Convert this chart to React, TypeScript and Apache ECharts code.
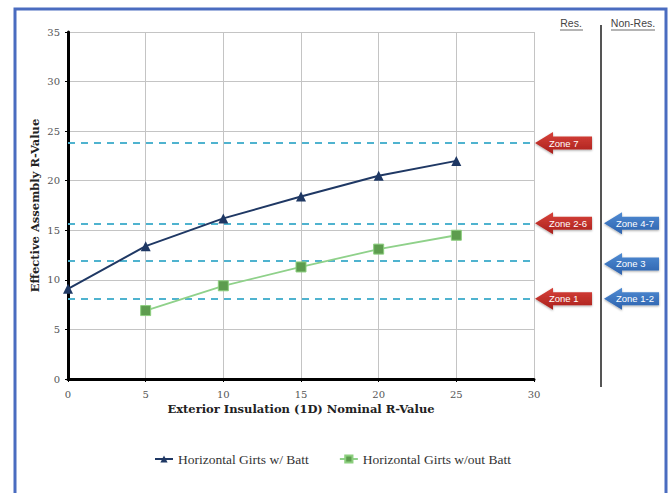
import React, { useEffect, useRef } from "react";
import * as echarts from "echarts";

const xValues = [0, 5, 10, 15, 20, 25];
const withBatt = [9.1, 13.4, 16.2, 18.4, 20.5, 22.0];
const withoutBatt = [null, 6.9, 9.4, 11.3, 13.1, 14.5];
const zoneLevels = [23.8, 15.7, 11.9, 8.1];
const resZoneLabels = ["Zone 7", "Zone 2-6", "Zone 1"];
const resZoneLevels = [23.8, 15.7, 8.1];
const nonResZoneLabels = ["Zone 4-7", "Zone 3", "Zone 1-2"];
const nonResZoneLevels = [15.7, 11.6, 8.1];
const seriesNames = ["Horizontal Girts w/ Batt", "Horizontal Girts w/out Batt"];

const SERIF = "DejaVu Serif";

function arrow(tipX: number, y: number, len: number, label: string, red: boolean) {
  const fill = new echarts.graphic.LinearGradient(0, 0, 0, 1, red
    ? [{ offset: 0, color: "#d8423a" }, { offset: 1, color: "#a9201c" }]
    : [{ offset: 0, color: "#4f8bd3" }, { offset: 1, color: "#2d62ad" }]);
  const head = 18, hh = 11, bh = 6.5;
  return {
    type: "group",
    x: tipX,
    y: y,
    children: [
      {
        type: "polygon",
        shape: {
          points: [[0, 0], [head, -hh], [head, -bh], [len, -bh], [len, bh], [head, bh], [head, hh]],
        },
        style: { fill, shadowBlur: 2, shadowColor: "rgba(0,0,0,0.35)", shadowOffsetY: 1 },
      },
      {
        type: "text",
        x: red ? 14 : 12,
        y: 0,
        style: {
          text: label,
          fill: "#ffffff",
          font: "9.5px 'Liberation Sans', sans-serif",
          verticalAlign: "middle",
          align: "left",
        },
      },
    ],
  };
}

export default function App() {
  const ref = useRef<HTMLDivElement>(null);
  useEffect(() => {
    if (!ref.current) return;
    const chart = echarts.init(ref.current, null, { renderer: "svg" });
    const option: any = {
      animation: false,
      backgroundColor: "#ffffff",
      textStyle: { fontFamily: SERIF },
      grid: { left: 68, top: 32, right: 136, bottom: 114 },
      legend: {
        bottom: 22,
        left: 149,
        itemGap: 30,
        itemWidth: 18,
        itemHeight: 9,
        data: seriesNames,
        textStyle: { fontFamily: "Liberation Serif", fontSize: 13.5, color: "#333" },
      },
      xAxis: {
        type: "value",
        min: 0,
        max: 30,
        interval: 5,
        name: "Exterior Insulation (1D) Nominal R-Value",
        nameLocation: "middle",
        nameGap: 24,
        nameMoveOverlap: false,
        nameTextStyle: { fontFamily: SERIF, fontWeight: "bold", fontSize: 11.5, color: "#222" },
        axisLine: { show: true, onZero: false, lineStyle: { color: "#000", width: 3 } },
        axisTick: { show: true, length: 3, lineStyle: { color: "#000" } },
        axisLabel: { fontFamily: SERIF, fontSize: 10, color: "#555", margin: 10 },
        splitLine: { show: true, lineStyle: { color: "#c4c4c4", width: 1 } },
      },
      yAxis: {
        type: "value",
        min: 0,
        max: 35,
        interval: 5,
        name: "Effective Assembly R-Value",
        nameLocation: "middle",
        nameGap: 27,
        nameMoveOverlap: false,
        nameTextStyle: { fontFamily: SERIF, fontWeight: "bold", fontSize: 11.5, color: "#222" },
        axisLine: { show: true, lineStyle: { color: "#000", width: 3 } },
        axisTick: { show: true, length: 3, lineStyle: { color: "#000" } },
        axisLabel: { fontFamily: SERIF, fontSize: 10, color: "#555", margin: 8 },
        splitLine: { show: true, lineStyle: { color: "#c4c4c4", width: 1 } },
      },
      series: [
        {
          name: seriesNames[0],
          type: "line",
          data: xValues.map((x, i) => [x, withBatt[i]]),
          symbol: "triangle",
          symbolSize: 10,
          lineStyle: { color: "#1f3864", width: 2 },
          itemStyle: { color: "#1f3864" },
          z: 5,
          markLine: {
            silent: true,
            symbol: "none",
            label: { show: false },
            lineStyle: { color: "#4fb3cf", type: [7, 6], width: 1.8 },
            data: zoneLevels.map((v) => ({ yAxis: v })),
          },
        },
        {
          name: seriesNames[1],
          type: "line",
          data: xValues.map((x, i) => [x, withoutBatt[i]]).filter((d) => d[1] !== null),
          symbol: "rect",
          symbolSize: 10,
          lineStyle: { color: "#8fd18a", width: 1.8 },
          itemStyle: { color: "#5d9c4e", borderColor: "#8ccf7e", borderWidth: 1 },
          z: 5,
        },
      ],
    };
    chart.setOption(option);

    const graphics: any[] = [];
    const xEnd = 30;
    resZoneLevels.forEach((lv, i) => {
      const p = chart.convertToPixel({ gridIndex: 0 }, [xEnd, lv]) as number[];
      graphics.push(arrow(p[0] + 1, p[1], 57, resZoneLabels[i], true));
    });
    nonResZoneLevels.forEach((lv, i) => {
      const p = chart.convertToPixel({ gridIndex: 0 }, [xEnd, lv]) as number[];
      graphics.push(arrow(p[0] + 70, p[1], 55, nonResZoneLabels[i], false));
    });
    graphics.push(
      { type: "line", shape: { x1: 601, y1: 25, x2: 601, y2: 387 }, style: { stroke: "#555", lineWidth: 2 } },
      { type: "text", x: 571, y: 28, style: { text: "Res.", fill: "#444", font: "10.5px 'Liberation Sans', sans-serif", align: "center", verticalAlign: "bottom" } },
      { type: "line", shape: { x1: 560, y1: 30, x2: 583, y2: 30 }, style: { stroke: "#444", lineWidth: 0.8 } },
      { type: "text", x: 633, y: 28, style: { text: "Non-Res.", fill: "#444", font: "10.5px 'Liberation Sans', sans-serif", align: "center", verticalAlign: "bottom" } },
      { type: "line", shape: { x1: 611, y1: 30, x2: 655, y2: 30 }, style: { stroke: "#444", lineWidth: 0.8 } },
      { type: "rect", shape: { x: 15, y: 9, width: 651, height: 500 }, style: { fill: "none", stroke: "#4a6cc0", lineWidth: 3 }, z: 100 }
    );
    chart.setOption({ graphic: graphics });

    return () => chart.dispose();
  }, []);
  return (
    <div
      ref={ref}
      style={{ position: "fixed", left: 0, top: 0, width: 670, height: 493 }}
    />
  );
}
